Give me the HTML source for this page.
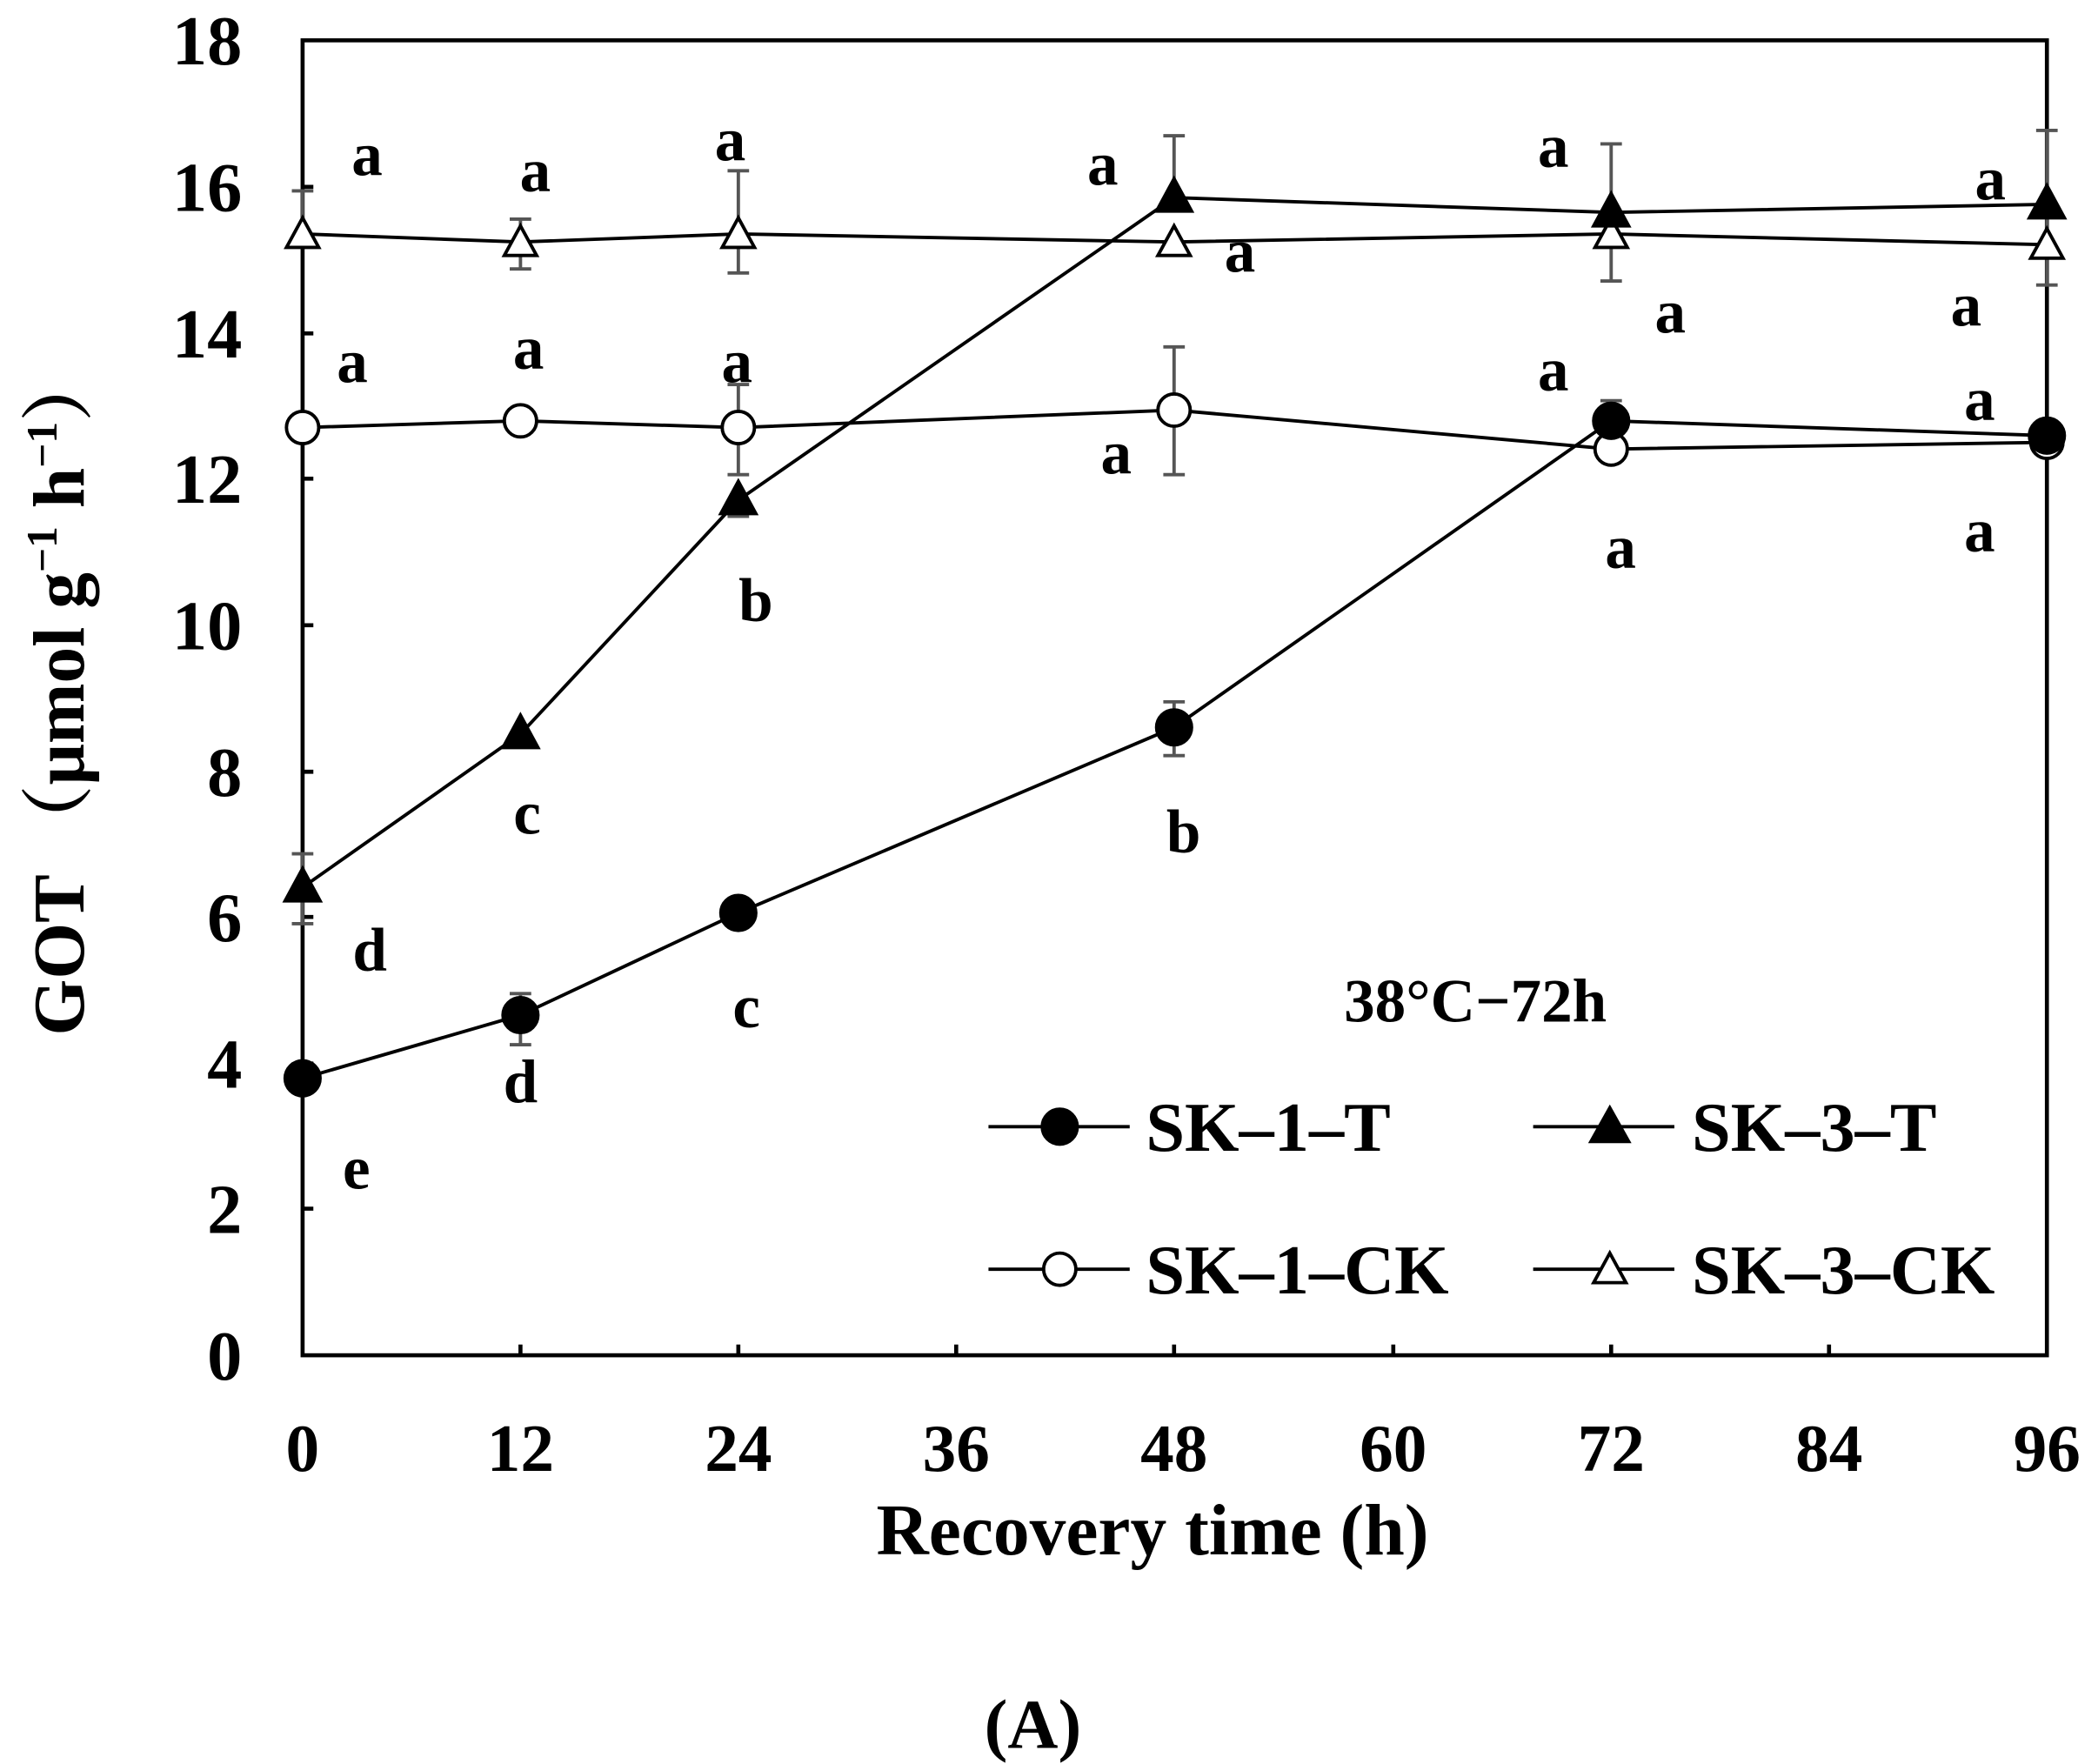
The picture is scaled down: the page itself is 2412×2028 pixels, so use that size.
<!DOCTYPE html>
<html><head><style>html,body{margin:0;padding:0;background:#fff}svg{display:block}</style></head>
<body>
<svg width="2412" height="2028" viewBox="0 0 1560 1312" preserveAspectRatio="none" xmlns="http://www.w3.org/2000/svg" font-family="Liberation Serif, serif" font-weight="bold">
<rect width="1560" height="1312" fill="#fff"/>
<g stroke="#000" stroke-width="3" fill="none">
<rect x="225" y="30" width="1297" height="978"/>
<path d="M225 899h8M225 791h8M225 682h8M225 574h8M225 465h8M225 356h8M225 248h8M225 139h8
M387 1008v-8M549 1008v-8M711 1008v-8M873 1008v-8M1036 1008v-8M1198 1008v-8M1360 1008v-8"/>
</g>
<g font-size="52" text-anchor="end">
<text x="180" y="1026">0</text><text x="180" y="917">2</text><text x="180" y="809">4</text><text x="180" y="700">6</text><text x="180" y="592">8</text><text x="180" y="483">10</text><text x="180" y="374">12</text><text x="180" y="266">14</text><text x="180" y="157">16</text><text x="180" y="48">18</text>
</g>
<g font-size="50" text-anchor="middle">
<text x="225" y="1094">0</text><text x="387" y="1094">12</text><text x="549" y="1094">24</text><text x="711" y="1094">36</text><text x="873" y="1094">48</text><text x="1036" y="1094">60</text><text x="1198" y="1094">72</text><text x="1360" y="1094">84</text><text x="1522" y="1094">96</text>
<text x="857" y="1156" font-size="54">Recovery time (h)</text>
<text x="768" y="1300" font-size="52">(A)</text>
</g>
<text transform="translate(62,515) rotate(-90)" text-anchor="middle" font-size="54" font-family="Liberation Serif, 'Noto Serif CJK SC', serif">GOT （μmol g<tspan font-size="32" dy="-20">−1</tspan><tspan dy="20"> h</tspan><tspan font-size="32" dy="-20">−1</tspan><tspan dy="20">）</tspan></text>
<!-- error bars -->
<g stroke="#555" stroke-width="2.5">
<path d="M549 127v76M541 127h16M541 203h16"/>
<path d="M873 101v56M865 101h16"/>
<path d="M873 169v14M865 183h16"/>
<path d="M1198 107v102M1190 107h16M1190 209h16"/>
<path d="M1522 97v115M1514 97h16M1514 212h16"/>
<path d="M873 258v95M865 258h16M865 353h16"/>
<path d="M549 286v67M541 286h16M541 353h16"/>
<path d="M225 635v52M217 635h16M217 687h16"/>
<path d="M549 362v22M541 384h16"/>
<path d="M873 522v40M865 522h16M865 562h16"/>
<path d="M387 739v38M379 739h16M379 777h16"/>
<path d="M387 163v10M379 163h16M387 190v10M379 200h16"/>
<path d="M225 142v20M217 142h16"/>
<path d="M1198 298v10M1190 298h16"/>
</g>
<!-- series -->
<g stroke="#000" stroke-width="2.5" fill="none">
<polyline points="225,174 387,180 549,174 873,180 1198,174 1522,182"/>
<polyline points="225,318 387,313 549,318 873,305 1198,334 1522,329"/>
<polyline points="225,660 387,546 549,372 873,147 1198,158 1522,152"/>
<polyline points="225,802 387,755 549,679 873,541 1198,313 1522,324"/>
</g>
<g stroke="#000" stroke-width="2.5">
<g fill="#fff">
<path d="M225 162l-12 22h24z"/><path d="M387 168l-12 22h24z"/><path d="M549 162l-12 22h24z"/><path d="M873 168l-12 22h24z"/><path d="M1198 162l-12 22h24z"/><path d="M1522 170l-12 22h24z"/>
<circle cx="225" cy="318" r="12"/><circle cx="387" cy="313" r="12"/><circle cx="549" cy="318" r="12"/><circle cx="873" cy="305" r="12"/><circle cx="1198" cy="334" r="12"/><circle cx="1522" cy="329" r="12"/>
</g>
<g fill="#000">
<path d="M225 646l-13 24h26z"/><path d="M387 532l-13 24h26z"/><path d="M549 358l-13 24h26z"/><path d="M873 133l-13 24h26z"/><path d="M1198 144l-13 24h26z"/><path d="M1522 138l-13 24h26z"/>
<circle cx="225" cy="802" r="13"/><circle cx="387" cy="755" r="13"/><circle cx="549" cy="679" r="13"/><circle cx="873" cy="541" r="13"/><circle cx="1198" cy="313" r="13"/><circle cx="1522" cy="324" r="13"/>
</g>
</g>
<!-- letters -->
<g font-size="46" text-anchor="middle">
<text x="273" y="130">a</text><text x="398" y="142">a</text><text x="543" y="119">a</text><text x="820" y="137">a</text><text x="1155" y="124">a</text><text x="1480" y="148">a</text>
<text x="922" y="202">a</text><text x="1242" y="247">a</text><text x="1462" y="242">a</text>
<text x="262" y="284">a</text><text x="393" y="274">a</text><text x="548" y="284">a</text><text x="1155" y="290">a</text><text x="1472" y="312">a</text>
<text x="830" y="352">a</text><text x="1205" y="422">a</text><text x="1472" y="410">a</text>
<text x="562" y="462">b</text><text x="880" y="634">b</text><text x="392" y="620">c</text><text x="555" y="764">c</text><text x="275" y="722">d</text><text x="387" y="820">d</text><text x="265" y="884">e</text>
</g>
<text x="1097" y="760" font-size="46" text-anchor="middle">38°C−72h</text>
<!-- legend -->
<g stroke="#000" stroke-width="2.5">
<path d="M735 838h105M1140 838h105M735 944h105M1140 944h105"/>
<circle cx="788" cy="838" r="13" fill="#000"/>
<path d="M1197 824l-14 25h28z" fill="#000"/>
<circle cx="788" cy="944" r="12" fill="#fff"/>
<path d="M1197 932l-12 22h24z" fill="#fff"/>
</g>
<g font-size="52">
<text x="852" y="856">SK–1–T</text><text x="1258" y="856">SK–3–T</text>
<text x="852" y="962">SK–1–CK</text><text x="1258" y="962">SK–3–CK</text>
</g>
</svg>
</body></html>
